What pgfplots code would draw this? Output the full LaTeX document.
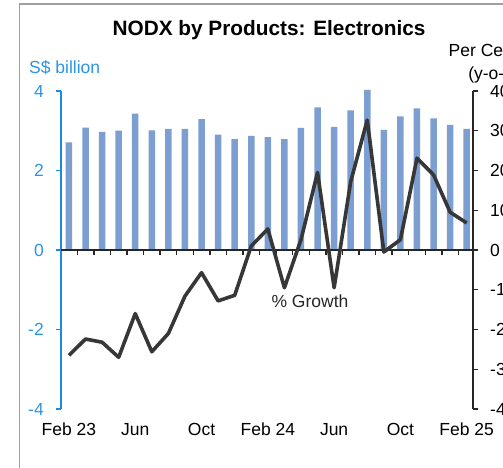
\documentclass[border=0pt]{standalone}
\usepackage{pgfplots}
\pgfplotsset{compat=1.18}
\usepackage{pgfplotstable}
\usepackage{fontspec}
\setmainfont{Liberation Sans}
\definecolor{barblue}{RGB}{124,158,209}
\definecolor{axblue}{RGB}{30,136,229}
\definecolor{txtblue}{RGB}{45,148,228}
\definecolor{linegray}{RGB}{55,55,55}
\pgfplotstableread{
x bar growth
0 2.71 -26.5
1 3.08 -22.4
2 2.97 -23.2
3 3.00 -27.0
4 3.43 -16.0
5 3.01 -25.6
6 3.05 -21.0
7 3.05 -11.6
8 3.29 -5.7
9 2.90 -12.8
10 2.79 -11.4
11 2.87 1.0
12 2.84 5.3
13 2.79 -9.5
14 3.07 2.6
15 3.59 19.5
16 3.10 -9.5
17 3.51 17.2
18 4.03 32.7
19 3.02 -0.5
20 3.36 2.6
21 3.56 23.1
22 3.31 18.9
23 3.15 9.5
24 3.05 6.8
}\datatable
\begin{document}
\begin{tikzpicture}
\useasboundingbox (0pt,0pt) rectangle (503pt,468pt);
\draw[gray!75, line width=1.6pt] (19.5pt,-10pt) -- (19.5pt,464pt) -- (540pt,464pt);
\node[font=\fontsize{20.8}{24}\bfseries\selectfont] at (269pt,437.5pt) {NODX by Products: Electronics};
\node[anchor=base west, inner sep=0pt, text=txtblue, font=\fontsize{17.5}{20}\selectfont] at (29pt,394pt) {S\$ billion};
\node[anchor=base east, inner sep=0pt, font=\fontsize{17.5}{20}\selectfont] at (518pt,411.5pt) {Per Cent};
\node[anchor=base east, inner sep=0pt, font=\fontsize{17.5}{20}\selectfont] at (519pt,388pt) {(y-o-y)};
\begin{axis}[
  at={(61pt,59pt)}, anchor=south west,
  scale only axis, width=412pt, height=318pt,
  xmin=-0.48, xmax=24.38, ymin=-4, ymax=4,
  clip=false,
  axis y line*=left, axis x line*=bottom,
  x axis line style={draw=none},
  y axis line style={draw=axblue, line width=1.4pt},
  ytick={-4,-2,0,2,4},
  ytick align=outside, major tick length=5pt,
  y tick style={draw=axblue, line width=1.4pt},
  x tick style={draw=none},
  xtick={0,4,8,12,16,20,24},
  xticklabels={Feb 23,Jun,Oct,Feb 24,Jun,Oct,Feb 25},
  /pgf/number format/assume math mode=true,
  tick label style={font=\fontsize{17.5}{20}\selectfont},
  yticklabel style={text=txtblue, anchor=east, inner sep=0pt, xshift=-12pt},
  xticklabel style={anchor=base, inner sep=0pt, yshift=-27pt},
]
\addplot[ybar, bar width=6.5pt, fill=barblue, draw=none] table[x=x, y=bar] {\datatable};
\end{axis}
\begin{axis}[
  at={(61pt,59pt)}, anchor=south west,
  scale only axis, width=412pt, height=318pt,
  xmin=-0.48, xmax=24.38, ymin=-40, ymax=40,
  axis y line*=right, axis x line=middle,
  x axis line style={-, draw=black!85, line width=2.4pt},
  y axis line style={-, draw=black!85, line width=1.4pt},
  ytick={-40,-30,...,40},
  ytick align=outside, major tick length=5pt,
  y tick style={draw=black!85, line width=1.4pt},
  xtick={0.5,1.5,...,23.5}, xticklabels={},
  xtick align=outside,
  x tick style={draw=black!85, line width=1.4pt},
  /pgf/number format/assume math mode=true,
  tick label style={font=\fontsize{17.5}{20}\selectfont},
  yticklabel style={anchor=west, inner sep=0pt, xshift=12pt},
]
\addplot[linegray, line width=3.6pt, line join=round] table[x=x, y=growth] {\datatable};
\end{axis}
\node[font=\fontsize{17.5}{20}\selectfont, text=black!85] at (310pt,167pt) {\% Growth};
\end{tikzpicture}
\end{document}
